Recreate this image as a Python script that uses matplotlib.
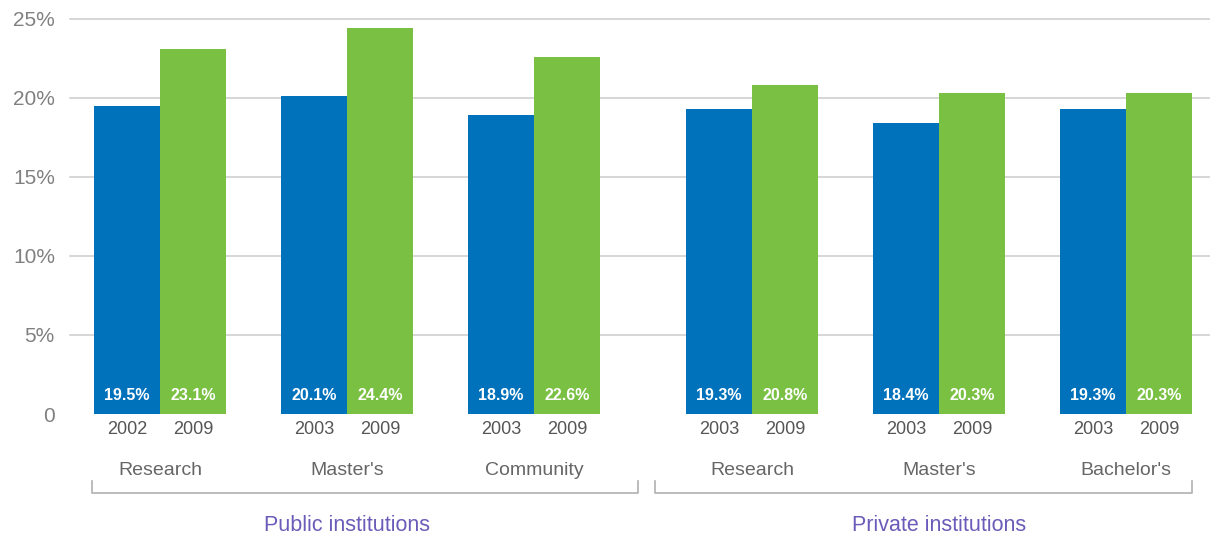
import matplotlib.pyplot as plt
import numpy as np

plt.rcParams['font.family'] = ['Liberation Sans', 'DejaVu Sans']

# data
categories = ["Research", "Master's", "Community", "Research", "Master's", "Bachelor's"]
first_years = ["2002", "2003", "2003", "2003", "2003", "2003"]
second_years = ["2009", "2009", "2009", "2009", "2009", "2009"]
first_values = [19.5, 20.1, 18.9, 19.3, 18.4, 19.3]
second_values = [23.1, 24.4, 22.6, 20.8, 20.3, 20.3]
sectors = ["Public institutions", "Private institutions"]
sector_members = [[0, 1, 2], [3, 4, 5]]

blue = "#0072bc"
green = "#7ac143"
grey_text = "#808080"
purple = "#6a5cb8"

fig = plt.figure(figsize=(12.1, 5.36), dpi=100)
ax = fig.add_axes([0.058, 0.2276, 0.942, 0.737])

# groups: private sector shifted right a little
x = np.arange(len(categories), dtype=float)
x[3:] += 0.165
w = 0.353

ax.bar(x - w / 2, first_values, width=w, color=blue, zorder=3)
ax.bar(x + w / 2, second_values, width=w, color=green, zorder=3)

for i in range(len(categories)):
    ax.text(x[i] - w / 2, 1.2, "{0:.1f}%".format(first_values[i]), color="white",
            ha="center", va="center", fontsize=11.5, fontweight="bold", zorder=4)
    ax.text(x[i] + w / 2, 1.2, "{0:.1f}%".format(second_values[i]), color="white",
            ha="center", va="center", fontsize=11.5, fontweight="bold", zorder=4)
    ax.text(x[i] - w / 2, -0.95, first_years[i], color="#555555",
            ha="center", va="center", fontsize=13, clip_on=False)
    ax.text(x[i] + w / 2, -0.95, second_years[i], color="#555555",
            ha="center", va="center", fontsize=13, clip_on=False)
    ax.text(x[i], -3.6, categories[i], color="#666666",
            ha="center", va="center", fontsize=14, clip_on=False)

# brackets under the sectors, split half way between the two sectors
split = (x[2] + x[3]) / 2
bracket_col = "#b0b0b0"
bracket_spans = [(x[0] - w - 0.011, split - 0.026), (split + 0.065, x[5] + w + 0.001)]
for name, members, (left, right) in zip(sectors, sector_members, bracket_spans):
    ax.plot([left, left, right, right], [-4.25, -5.0, -5.0, -4.25], color=bracket_col,
            lw=1.2, clip_on=False)
    ax.text(x[members[1]], -7.05, name, color=purple, ha="center", va="center",
            fontsize=15.5, clip_on=False)

ax.set_xlim(-0.481, 5.615)
ax.set_ylim(0, 25)
ax.set_yticks([0, 5, 10, 15, 20, 25])
ax.set_yticklabels(["0", "5%", "10%", "15%", "20%", "25%"])
ax.tick_params(axis="y", length=0, labelsize=15, labelcolor=grey_text, pad=11)
ax.set_xticks([])
for spine in ax.spines.values():
    spine.set_visible(False)
for val in [5, 10, 15, 20, 25]:
    ax.axhline(val, color="#d0d0d0", lw=1.2, zorder=1, clip_on=False)

plt.savefig("out.png", dpi=100)
plt.close()
